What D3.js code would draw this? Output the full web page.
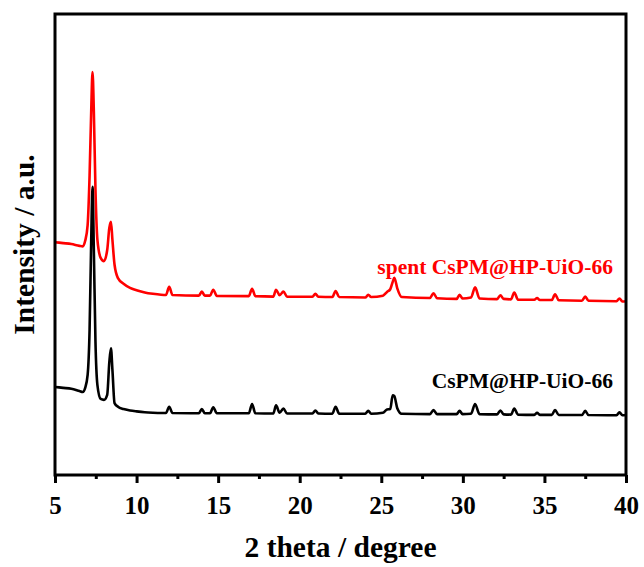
<!DOCTYPE html>
<html>
<head>
<meta charset="utf-8">
<script src="https://cdn.jsdelivr.net/npm/d3@7"></script>
<style>
  body { margin: 0; background: #fff; }
  text { font-family: "Times New Roman", "Liberation Serif", serif; font-weight: bold; }
</style>
</head>
<body>
<div id="chart"></div>
<script>
const width = 644;
const height = 567;
const margin = { top: 14, right: 18, bottom: 92, left: 55 };

// 2 theta positions shared by both patterns
const twoTheta = [
  5.0, 5.5, 6.0, 6.5, 6.7, 6.85, 7.0, 7.12, 7.22, 7.3, 7.38, 7.48, 7.6, 7.8, 8.0,
  8.2, 8.33, 8.43, 8.52, 8.65, 8.86, 9.2, 9.6, 10.0, 10.5, 11.0, 11.5, 11.8, 12.0,
  12.2, 13.82, 14.0, 14.18, 14.5, 14.7, 14.92, 16.88, 17.08, 17.28, 18.38, 18.55,
  18.77, 19.0, 19.22, 20.78, 20.96, 21.14, 22.0, 22.2, 22.42, 24.02, 24.2, 24.38,
  25.1, 25.35, 25.55, 25.7, 25.8, 25.98, 26.25, 27.98, 28.2, 28.42, 29.62, 29.8,
  29.98, 30.5, 30.75, 31.02, 32.1, 32.3, 32.5, 32.95, 33.15, 33.38, 34.38, 34.55,
  34.72, 35.45, 35.65, 35.88, 37.3, 37.5, 37.7, 39.42, 39.6, 39.78, 40.0
];

const spentIntensity = [
  50.5, 50.3, 50.1, 49.7, 49.6, 50.8, 54.2, 65, 79, 87.4, 79, 62, 51, 47.1, 46.4,
  48.8, 53.6, 54.9, 51, 45.6, 42.7, 41.5, 40.6, 40.1, 39.6, 39.3, 39.1, 39.05, 40.8,
  39.05, 38.9, 39.8, 38.9, 38.9, 40.2, 38.85, 38.8, 40.4, 38.8, 38.7, 40.2,
  39.0, 39.8, 38.7, 38.65, 39.3, 38.65, 38.6, 39.9, 38.6, 38.5, 39.1, 38.6,
  38.9, 39.7, 40.3, 41.9, 42.8, 40.5, 38.6, 38.4, 39.4, 38.35, 38.2, 39.1,
  38.3, 38.5, 40.7, 38.3, 38.15, 39.0, 38.2, 38.1, 39.6, 38.05, 38.0, 38.4,
  37.95, 37.95, 39.2, 37.9, 37.8, 38.7, 37.8, 37.7, 38.3, 37.65, 37.7
];

const freshIntensity = [
  19.1, 18.9, 18.7, 18.2, 18.0, 18.9, 21.7, 31.5, 51, 62.5, 49, 29, 19.5, 16.5, 16.3,
  17.4, 24.5, 27.5, 22.8, 15.6, 14.8, 14.3, 14.0, 13.8, 13.6, 13.5, 13.45, 13.45, 14.8,
  13.45, 13.4, 14.3, 13.4, 13.4, 14.7, 13.4, 13.4, 15.4, 13.4, 13.35, 15.1,
  13.5, 14.4, 13.35, 13.35, 14.0, 13.35, 13.3, 14.8, 13.3, 13.3, 13.9, 13.3,
  13.5, 14.2, 14.3, 17.3, 17.1, 14.5, 13.3, 13.2, 14.1, 13.2, 13.2, 13.9,
  13.2, 13.3, 15.4, 13.2, 13.15, 14.0, 13.15, 13.1, 14.4, 13.1, 13.05, 13.5,
  13.05, 13.05, 14.1, 13.0, 13.0, 13.9, 13.0, 12.95, 13.6, 12.95, 13.0
];

const xTicks = [5, 10, 15, 20, 25, 30, 35, 40];
const xMinorTicks = [7.5, 12.5, 17.5, 22.5, 27.5, 32.5, 37.5];

const series = [
  { name: 'spent CsPM@HP-UiO-66', values: spentIntensity, color: '#ff0000' },
  { name: 'CsPM@HP-UiO-66', values: freshIntensity, color: '#000000' }
];

const svg = d3.select('#chart')
  .append('svg')
  .attr('width', width)
  .attr('height', height);

const x = d3.scaleLinear()
  .domain([5, 40])
  .range([margin.left, width - margin.right]);

const y = d3.scaleLinear()
  .domain([0, 100])
  .range([height - margin.bottom, margin.top]);

const line = d3.line()
  .x((d, i) => x(twoTheta[i]))
  .y(d => y(d))
  .curve(d3.curveMonotoneX);

svg.append('g')
  .selectAll('path')
  .data(series)
  .join('path')
    .attr('fill', 'none')
    .attr('stroke', d => d.color)
    .attr('stroke-width', 2.6)
    .attr('stroke-linejoin', 'round')
    .attr('d', d => line(d.values));

// labels sit a bit above each baseline, right aligned
svg.append('g')
  .selectAll('text')
  .data(series)
  .join('text')
    .attr('x', x(39.2))
    .attr('y', d => y(d.values[d.values.length - 1] + 5.8))
    .attr('text-anchor', 'end')
    .attr('fill', d => d.color)
    .attr('font-size', '21.5px')
    .text(d => d.name);

// frame
svg.append('rect')
  .attr('x', margin.left)
  .attr('y', margin.top)
  .attr('width', width - margin.left - margin.right)
  .attr('height', height - margin.top - margin.bottom)
  .attr('fill', 'none')
  .attr('stroke', '#000')
  .attr('stroke-width', 3);

function xAxis(g) {
  g.attr('transform', `translate(0,${height - margin.bottom})`)
    .call(d3.axisBottom(x).tickValues(xTicks).tickSize(8).tickPadding(13).tickFormat(d3.format('d')))
    .call(g => g.select('.domain').remove())
    .call(g => g.selectAll('.tick line').attr('stroke-width', 3))
    .call(g => g.selectAll('.tick text')
      .attr('font-size', '25px')
      .attr('fill', '#000')
      .attr('font-family', '"Times New Roman", "Liberation Serif", serif'));
}

function xMinor(g) {
  g.attr('transform', `translate(0,${height - margin.bottom})`)
    .call(d3.axisBottom(x).tickValues(xMinorTicks).tickSize(4).tickFormat(''))
    .call(g => g.select('.domain').remove())
    .call(g => g.selectAll('.tick line').attr('stroke-width', 3));
}

svg.append('g').call(xAxis);
svg.append('g').call(xMinor);

svg.append('text')
  .attr('x', (margin.left + width - margin.right) / 2)
  .attr('y', 557)
  .attr('text-anchor', 'middle')
  .attr('font-size', '29.5px')
  .text('2 theta / degree');

svg.append('text')
  .attr('transform', `translate(34,${(margin.top + height - margin.bottom) / 2}) rotate(-90)`)
  .attr('text-anchor', 'middle')
  .attr('font-size', '29.5px')
  .text('Intensity / a.u.');
</script>
</body>
</html>
